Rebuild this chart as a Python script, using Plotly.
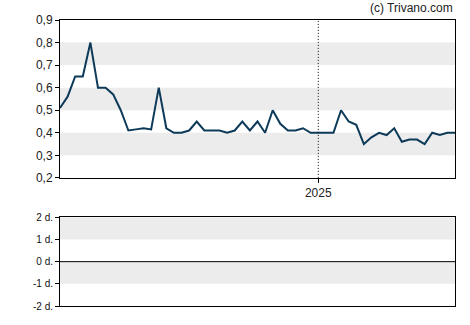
import pandas as pd
import plotly.graph_objects as go
from plotly.subplots import make_subplots

# Weekly prices; index 34 is the first week of 2025
n_before_2025 = 34
prices = [0.51, 0.56, 0.65, 0.65, 0.80, 0.60, 0.60, 0.57, 0.50, 0.41,
          0.415, 0.42, 0.415, 0.60, 0.42, 0.40, 0.40, 0.41, 0.45, 0.41,
          0.41, 0.41, 0.40, 0.41, 0.45, 0.41, 0.45, 0.40, 0.50, 0.44,
          0.41, 0.41, 0.42, 0.40, 0.40, 0.40, 0.40, 0.50, 0.45, 0.435,
          0.35, 0.38, 0.40, 0.39, 0.42, 0.36, 0.37, 0.37, 0.35, 0.40,
          0.39, 0.40, 0.40]
start = pd.Timestamp("2025-01-01") - pd.Timedelta(weeks=n_before_2025)
dates = pd.date_range(start, periods=len(prices), freq="7D")

y_ticks = [0.2, 0.3, 0.4, 0.5, 0.6, 0.7, 0.8, 0.9]
bands_top = [(0.3, 0.4), (0.5, 0.6), (0.7, 0.8)]
lower_ticks = [-2, -1, 0, 1, 2]
lower_labels = ["-2 d.", "-1 d.", "0 d.", "1 d.", "2 d."]
bands_low = [(-1, 0), (1, 2)]
year_tick = pd.Timestamp("2025-01-01")

fig = make_subplots(rows=2, cols=1, shared_xaxes=False,
                    row_heights=[0.64, 0.36], vertical_spacing=0.1)

fig.add_trace(go.Scatter(x=dates, y=prices, mode="lines",
                         line=dict(color="#0d3a58", width=2),
                         hoverinfo="skip", showlegend=False), row=1, col=1)
fig.add_trace(go.Scatter(x=dates, y=[None] * len(dates), mode="lines",
                         showlegend=False, hoverinfo="skip"), row=2, col=1)

for lo, hi in bands_top:
    fig.add_shape(type="rect", xref="x domain", yref="y", x0=0, x1=1,
                  y0=lo, y1=hi, fillcolor="#ececec", line_width=0, layer="below")
for lo, hi in bands_low:
    fig.add_shape(type="rect", xref="x2 domain", yref="y2", x0=0, x1=1,
                  y0=lo, y1=hi, fillcolor="#ececec", line_width=0, layer="below")

fig.add_shape(type="line", xref="x", yref="y domain", x0=year_tick, x1=year_tick,
              y0=0, y1=1, line=dict(color="black", width=1, dash="1px,2px"))
fig.add_shape(type="line", xref="x2 domain", yref="y2", x0=0, x1=1, y0=0, y1=0,
              line=dict(color="black", width=1))

axis_common = dict(showline=True, linecolor="black", linewidth=1, mirror=True,
                   showgrid=False, zeroline=False)

fig.update_xaxes(range=[dates[0], dates[-1]], tickvals=[year_tick], ticktext=["2025"],
                 ticks="outside", ticklen=4, tickcolor="black",
                 tickfont=dict(size=12, color="#222"), **axis_common, row=1, col=1)
fig.update_xaxes(range=[dates[0], dates[-1]], showticklabels=False, ticks="",
                 **axis_common, row=2, col=1)
fig.update_yaxes(range=[0.2, 0.9], tickvals=y_ticks, tickformat=".1f",
                 ticks="outside", ticklen=4, tickcolor="black",
                 tickfont=dict(size=12, color="#222"), **axis_common, row=1, col=1)
fig.update_yaxes(range=[-2, 2], tickvals=lower_ticks, ticktext=lower_labels,
                 ticks="outside", ticklen=4, tickcolor="black",
                 tickfont=dict(size=10, color="#111"), **axis_common, row=2, col=1)

fig.update_layout(
    width=470, height=325,
    margin=dict(l=60, r=15, t=20, b=15),
    paper_bgcolor="white", plot_bgcolor="white",
    separators=",.",
    font=dict(family="Liberation Sans, Arial, sans-serif", color="#222"),
    annotations=[dict(text="(c) Trivano.com", xref="paper", yref="paper",
                      x=1, y=1, xanchor="right", yanchor="bottom", yshift=3,
                      showarrow=False, font=dict(size=12, color="#222"))],
)
fig.layout.yaxis.domain = [0.448, 1.0]
fig.layout.yaxis2.domain = [0.0, 0.31]

fig.write_html("out.html")
